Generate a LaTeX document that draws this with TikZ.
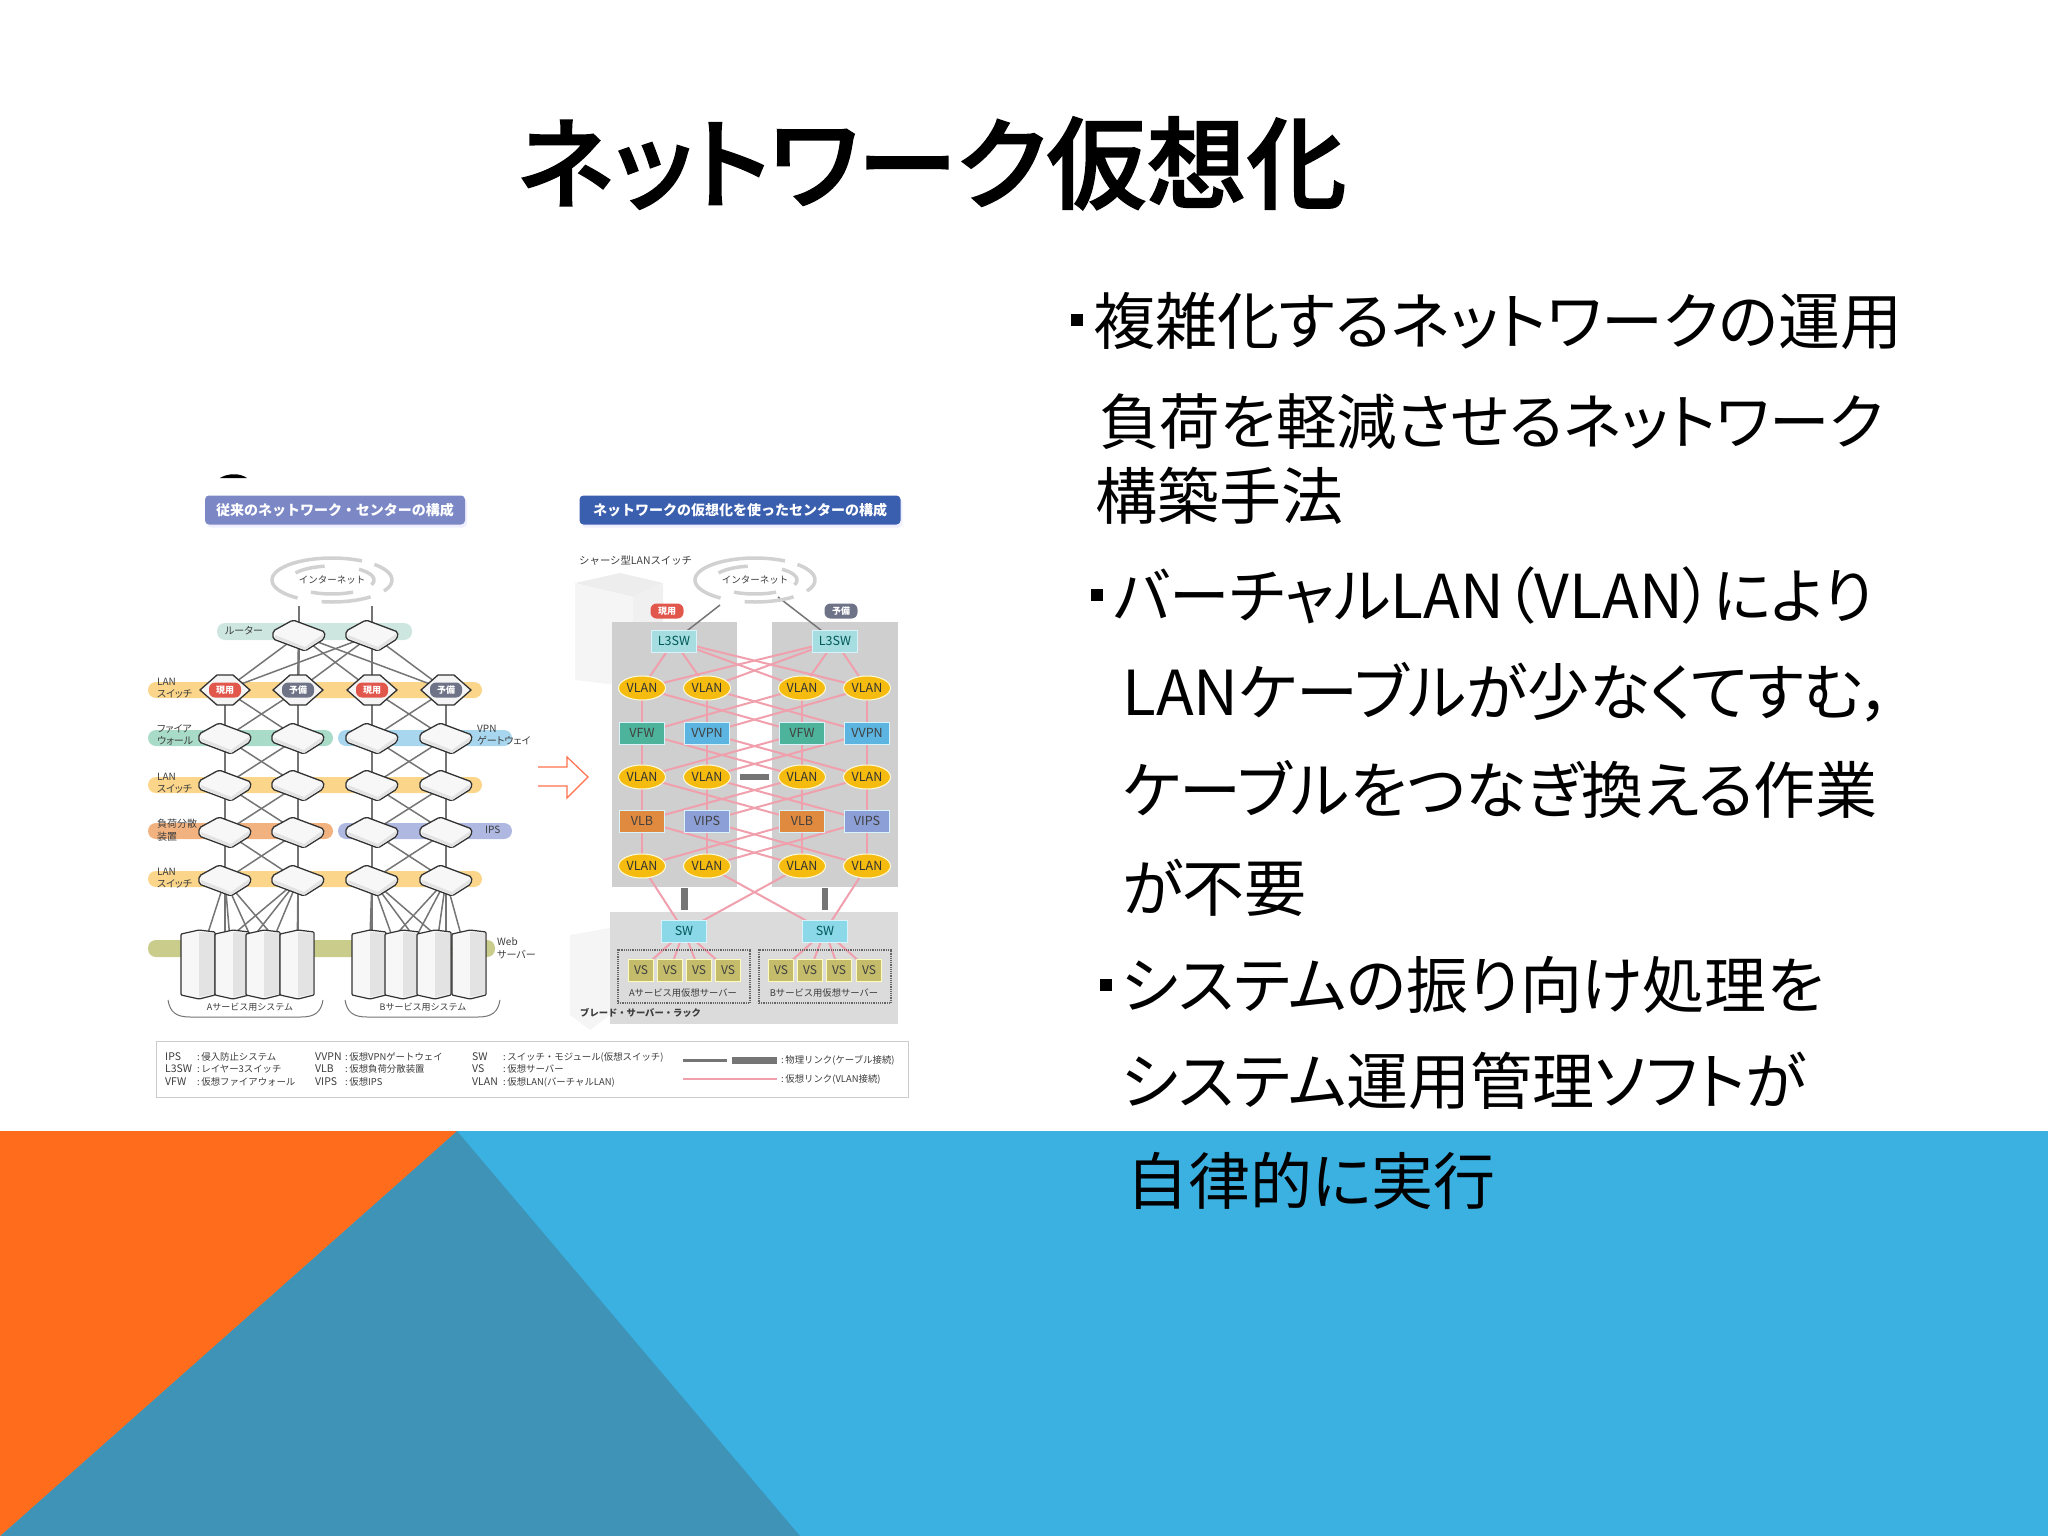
\documentclass[tikz,border=0pt]{standalone}
\usepackage{fontspec}
\setmainfont{Noto Sans CJK JP}
\newfontfamily\slidefont{Noto Sans CJK JP}[RawFeature=+palt]
\newfontfamily\titlefont{Noto Sans CJK JP Medium}[RawFeature=+palt,FakeBold=1.6]
\usetikzlibrary{backgrounds,shadows,shapes.geometric}

\definecolor{slideblue}{HTML}{3BB1E2}
\definecolor{slideorange}{HTML}{FF6C1B}
\definecolor{slideteal}{HTML}{3E93B7}
\definecolor{physgrey}{HTML}{757575}
\definecolor{virtpink}{HTML}{F0A0AD}
\definecolor{labelgrey}{HTML}{3C3C3C}
\definecolor{vsolive}{HTML}{C4BC6A}
\definecolor{l3cyan}{HTML}{A5DDE0}
\definecolor{swcyan}{HTML}{8AD8E8}
\definecolor{vfwgreen}{HTML}{4DB39A}
\definecolor{vvpnblue}{HTML}{5BB5E0}
\definecolor{vlborange}{HTML}{E08A40}
\definecolor{vipsblue}{HTML}{8C9FD6}
\definecolor{vlanyellow}{HTML}{F5BB0E}
\definecolor{bandrt}{HTML}{CDE6E0}
\definecolor{bandlan}{HTML}{FAD58A}
\definecolor{bandfw}{HTML}{A9DBC9}
\definecolor{bandvpn}{HTML}{A8D6EE}
\definecolor{bandlb}{HTML}{F2B27F}
\definecolor{bandips}{HTML}{AEB8E0}
\definecolor{bandweb}{HTML}{C9CC8A}
\definecolor{headold}{HTML}{7C88C6}
\definecolor{headnew}{HTML}{3B5FAF}
\definecolor{pillred}{HTML}{E2574C}
\definecolor{pillgrey}{HTML}{6E7388}

\tikzset{
    swbox/.style={minimum width=56,minimum height=36,inner sep=0,
        path picture={
            \draw[shift={(path picture bounding box.center)},draw=black!80,line width=1.3,fill=black!3,rounded corners=2]
                (-26,-4) -- (-6,-15) -- (26,-3) -- (25,4) -- (6,16) -- (-26,4) -- cycle;
            \fill[shift={(path picture bounding box.center)},black!11]
                (-24,0) -- (6,12) -- (24,-1) -- (24,3) -- (6,15) -- (-24,3) -- cycle;
        }},
    hexbox/.style={minimum width=56,minimum height=36,inner sep=0,
        path picture={
            \draw[shift={(path picture bounding box.center)},draw=black!80,line width=1.3,fill=black!4]
                (-25,0) -- (-8,-15) -- (8,-15) -- (25,0) -- (8,15) -- (-8,15) -- cycle;
        }},
    srvbox/.style={minimum width=37,minimum height=72,inner sep=0,
        path picture={
            \draw[shift={(path picture bounding box.center)},draw=black!80,line width=1.2,fill=black!3,rounded corners=1]
                (-17,-30) -- (1,-34) -- (17,-32) -- (17,31) -- (1,35) -- (-17,31) -- cycle;
            \fill[shift={(path picture bounding box.center)},black!11]
                (1,-32) -- (16,-31) -- (16,30) -- (1,33) -- cycle;
        }},
    cloudnet/.style={minimum width=128,minimum height=52,inner sep=0,
        path picture={
            \begin{scope}[shift={(path picture bounding box.center)},draw=black!18,line width=3.5]
                \foreach \p/\q in {60/165,-30/45,-100/-50,-195/-125}{
                    \draw plot[domain=\p:\q,samples=20] ({60*cos(\x)},{-22*sin(\x)});
                }
                \foreach \p/\q in {100/150,-20/50,-120/-60}{
                    \draw plot[domain=\p:\q,samples=20] ({42*cos(\x)},{-14*sin(\x)});
                }
            \end{scope}
        }},
    nettext/.style={inner sep=0,text=labelgrey,font=\fontsize{9.5}{9.5}\selectfont},
    bandbar/.style={rounded corners=8},
    sidelabel/.style={anchor=west,inner sep=0,align=left,text=labelgrey,font=\slidefont\fontsize{10}{12.5}\selectfont},
    headbox/.style={rounded corners=4,text=white,inner sep=0,font=\fontsize{14}{14}\bfseries\selectfont},
    statuspill/.style={rounded corners=6,text=white,minimum width=33,minimum height=15,inner sep=0,font=\fontsize{9}{9}\bfseries\selectfont},
    physlink/.style={physgrey,line width=1.5},
    physmain/.style={physgrey,line width=2.4},
    virtlink/.style={virtpink,line width=2},
    vlanoval/.style={ellipse,fill=vlanyellow,draw=yellow!15,line width=1,minimum width=47,minimum height=24,inner sep=0,text=black!80,font=\fontsize{12.5}{12.5}\selectfont},
    vnfbox/.style={draw=white!85!cyan,line width=1,minimum width=45,minimum height=22,inner sep=0,text=black!75,font=\fontsize{12.5}{12.5}\selectfont},
    vsbox/.style={fill=vsolive,draw=yellow!25,line width=1,minimum width=25,minimum height=22,inner sep=0,text=black!75,font=\fontsize{12}{12}\selectfont},
    legendtext/.style={anchor=west,inner sep=0,text=labelgrey,font=\fontsize{10.5}{10.5}\selectfont},
    bodyline/.style={anchor=base west,inner sep=0,font=\slidefont\fontsize{62}{62}\selectfont},
    narrowline/.style={font=\slidefont\fontsize{60.5}{62}\selectfont},
    bulletmark/.style={fill=black,minimum size=12,inner sep=0}
}

\begin{document}
\begin{tikzpicture}[x=1pt,y=-1pt]
    \useasboundingbox (0,0) rectangle (2048,1536);

    \begin{scope}[on background layer]
        % slide background
        \fill[slideblue] (0,1131) rectangle (2048,1536);
        \fill[slideteal] (457,1131) -- (800,1536) -- (0,1536) -- cycle;
        \fill[slideorange] (0,1131) -- (457,1131) -- (0,1536) -- cycle;
        % bands behind the switches
        \fill[bandbar,fill=bandrt] (217,623) rectangle (412,640);
        \fill[bandbar,fill=bandlan] (148,682) rectangle (482,698);
        \fill[bandbar,fill=bandfw] (148,730) rectangle (333,746);
        \fill[bandbar,fill=bandvpn] (338,730) rectangle (512,746);
        \fill[bandbar,fill=bandlan] (148,777) rectangle (482,793);
        \fill[bandbar,fill=bandlb] (148,823) rectangle (333,839);
        \fill[bandbar,fill=bandips] (338,823) rectangle (512,839);
        \fill[bandbar,fill=bandlan] (148,871) rectangle (482,887);
        \fill[bandbar,fill=bandweb] (148,940) rectangle (495,957);
        % chassis and rack
        \fill[black!7] (575,583) -- (620,573) -- (663,583) -- (633,597) -- cycle;
        \fill[black!4] (575,583) -- (633,597) -- (633,687) -- (575,680) -- cycle;
        \fill[black!6] (633,597) -- (663,583) -- (663,680) -- (633,687) -- cycle;
        \fill[black!4] (570,935) -- (610,928) -- (610,1015) -- (590,1030) -- (570,1015) -- cycle;
        % grey panels
        \fill[black!19] (612,622) rectangle (737,887);
        \fill[black!19] (772,622) rectangle (898,887);
        \fill[black!14] (610,912) rectangle (898,1024);
    \end{scope}

    \fill[black] (220,478) .. controls (228,473) and (240,473) .. (247,478) -- cycle;

    \node[anchor=base,inner sep=0,font=\titlefont\fontsize{100}{100}\selectfont] (title) at (932,201) {ネットワーク仮想化};

    % slide text
    \node[bulletmark] (bullet1) at (1077,320) {};
    \node[bodyline] (line1) at (1093,344) {複雑化するネットワークの運用};
    \node[bodyline,narrowline] (line2) at (1099,444) {負荷を軽減させるネットワーク};
    \node[bodyline] (line3) at (1095,519) {構築手法};
    \node[bulletmark] (bullet2) at (1097,595) {};
    \node[bodyline,narrowline] (line4) at (1113,618) {バーチャルLAN（VLAN）により};
    \node[bodyline] (line5) at (1122,715) {LANケーブルが少なくてすむ，};
    \node[bodyline] (line6) at (1122,813) {ケーブルをつなぎ換える作業};
    \node[bodyline] (line7) at (1122,911) {が不要};
    \node[bulletmark] (bullet3) at (1106,985) {};
    \node[bodyline] (line8) at (1121,1008) {システムの振り向け処理を};
    \node[bodyline] (line9) at (1121,1104) {システム運用管理ソフトが};
    \node[bodyline] (line10) at (1126,1204) {自律的に実行};

    % left diagram
    \node[headbox,fill=headold,minimum width=260,minimum height=29,drop shadow={shadow xshift=2pt,shadow yshift=-3pt,fill=blue!12}] (headold) at (335,510) {従来のネットワーク・センターの構成};
    \node[cloudnet] (netold) at (332,580) {};
    \node[nettext] (netoldtext) at (netold) {インターネット};
    \node[swbox] (rt1) at (299,635) {};
    \node[swbox] (rt2) at (372,635) {};
    \foreach \c/\x in {1/225,2/298,3/372,4/446}{
        \node[hexbox] (sw1\c) at (\x,690) {};
        \foreach \r/\y in {2/738,3/785,4/832,5/880}{
            \node[swbox] (sw\r\c) at (\x,\y) {};
        }
    }
    \foreach \c in {1,3}{
        \node[statuspill,fill=pillred,minimum width=32] (pill\c) at (sw1\c) {現用};
    }
    \foreach \c in {2,4}{
        \node[statuspill,fill=pillgrey,minimum width=32] (pill\c) at (sw1\c) {予備};
    }
    \foreach \s/\x in {1/198,2/232,3/263,4/297,5/369,6/402,7/434,8/469}{
        \node[srvbox] (srv\s) at (\x,964) {};
    }
    \node[sidelabel] (lblrt) at (225,631) {ルーター};
    \node[sidelabel] (lbllan1) at (157,688) {LAN\\スイッチ};
    \node[sidelabel] (lblfw) at (157,735) {ファイア\\ウォール};
    \node[sidelabel] (lbllan2) at (157,783) {LAN\\スイッチ};
    \node[sidelabel] (lbllb) at (157,830) {負荷分散\\装置};
    \node[sidelabel] (lbllan3) at (157,878) {LAN\\スイッチ};
    \node[sidelabel] (lblvpn) at (477,735) {VPN\\ゲートウェイ};
    \node[sidelabel] (lblips) at (485,830) {IPS};
    \node[sidelabel] (lblweb) at (497,948) {Web\\サーバー};
    \node[inner sep=0,text=labelgrey,font=\fontsize{9}{9}\selectfont] (sysa) at (250,1007) {Aサービス用システム};
    \node[inner sep=0,text=labelgrey,font=\fontsize{9}{9}\selectfont] (sysb) at (423,1007) {Bサービス用システム};
    \draw[black!55,line width=1] (168,1000) .. controls (170,1012) and (176,1017) .. (190,1017) -- (301,1017) .. controls (315,1017) and (321,1012) .. (323,1000);
    \draw[black!55,line width=1] (345,1000) .. controls (347,1012) and (353,1017) .. (367,1017) -- (478,1017) .. controls (492,1017) and (498,1012) .. (500,1000);

    % hollow arrow between the two
    \draw[red!60!orange!70,line width=1.2] (538,767) -- (567,767) -- (567,757) -- (588,777) -- (567,798) -- (567,786) -- (538,786);

    % right diagram
    \node[headbox,fill=headnew,minimum width=321,minimum height=29,drop shadow={shadow xshift=2pt,shadow yshift=-3pt,fill=blue!12}] (headnew) at (740,510) {ネットワークの仮想化を使ったセンターの構成};
    \node[anchor=west,inner sep=0,text=labelgrey,font=\fontsize{10.4}{10.4}\selectfont] (chassis) at (579,561) {シャーシ型LANスイッチ};
    \node[cloudnet] (netnew) at (755,580) {};
    \node[nettext] (netnewtext) at (netnew) {インターネット};
    \coordinate (netnewl) at (720,605);
    \coordinate (netnewr) at (778,597);
    \node[statuspill,fill=pillred] (pillnew1) at (667,611) {現用};
    \node[statuspill,fill=pillgrey] (pillnew2) at (841,611) {予備};
    \node[vnfbox,fill=l3cyan,text=teal!70!black] (l31) at (674,641) {L3SW};
    \node[vnfbox,fill=l3cyan,text=teal!70!black] (l32) at (835,641) {L3SW};
    \foreach \c/\x in {1/642,2/707,3/802,4/867}{
        \foreach \r/\y in {1/688,3/777,5/866}{
            \node[vlanoval] (v\r\c) at (\x,\y) {VLAN};
        }
    }
    \foreach \c/\x/\t/\f in {1/642/VFW/vfwgreen,2/707/VVPN/vvpnblue,3/802/VFW/vfwgreen,4/867/VVPN/vvpnblue}{
        \node[vnfbox,fill=\f] (v2\c) at (\x,733) {\t};
    }
    \foreach \c/\x/\t/\f in {1/642/VLB/vlborange,2/707/VIPS/vipsblue,3/802/VLB/vlborange,4/867/VIPS/vipsblue}{
        \node[vnfbox,fill=\f] (v4\c) at (\x,821) {\t};
    }
    \node[vnfbox,fill=swcyan,text=teal!70!black] (vsw1) at (684,931) {SW};
    \node[vnfbox,fill=swcyan,text=teal!70!black] (vsw2) at (825,931) {SW};
    \foreach \c/\x in {1/641,2/670,3/699,4/728,5/781,6/810,7/839,8/869}{
        \node[vsbox] (vs\c) at (\x,970) {VS};
    }
    \node[draw=black!60,densely dotted,line width=1.2,minimum width=132,minimum height=53,inner sep=0] (vsgrpa) at (684,976.5) {};
    \node[draw=black!60,densely dotted,line width=1.2,minimum width=132,minimum height=53,inner sep=0] (vsgrpb) at (825,976.5) {};
    \node[inner sep=0,text=labelgrey,font=\fontsize{9.3}{9.3}\selectfont] (vsa) at (683,993) {Aサービス用仮想サーバー};
    \node[inner sep=0,text=labelgrey,font=\fontsize{9.3}{9.3}\selectfont] (vsb) at (824,993) {Bサービス用仮想サーバー};
    \node[anchor=west,inner sep=0,text=labelgrey,font=\fontsize{9.3}{9.3}\bfseries\selectfont] (rack) at (580,1013) {ブレード・サーバー・ラック};
    \node[fill=physgrey,minimum width=7,minimum height=22,inner sep=0] (cable1) at (684,899) {};
    \node[fill=physgrey,minimum width=6,minimum height=22,inner sep=0] (cable2) at (825,899) {};
    \node[fill=physgrey,minimum width=29,minimum height=6,inner sep=0] (cable3) at (754,777) {};

    % legend
    \node[draw=black!20,line width=1,minimum width=752,minimum height=56,inner sep=0] (legend) at (532,1069) {};
    \foreach \n/\x/\y/\t in {a/165/1057/IPS,b/165/1069/L3SW,c/165/1082/VFW,d/315/1057/VVPN,e/315/1069/VLB,f/315/1082/VIPS,g/472/1057/SW,h/472/1069/VS,i/472/1082/VLAN}{
        \node[legendtext] (lg\n) at (\x,\y) {\t};
    }
    \foreach \n/\x/\y/\t in {a/197/1057/:\,侵入防止システム,b/197/1069/:\,レイヤー3スイッチ,c/197/1082/:\,仮想ファイアウォール,d/345/1057/:\,仮想VPNゲートウェイ,e/345/1069/:\,仮想負荷分散装置,f/345/1082/:\,仮想IPS,g/503/1057/:\,スイッチ・モジュール(仮想スイッチ),h/503/1069/:\,仮想サーバー,i/503/1082/:\,仮想LAN(バーチャルLAN),j/781/1060/:\,物理リンク(ケーブル接続),k/781/1079/:\,仮想リンク(VLAN接続)}{
        \node[legendtext,font=\fontsize{9.4}{9.4}\selectfont] (ld\n) at (\x,\y) {\t};
    }
    \coordinate (keya) at (683,1060);
    \coordinate (keyb) at (727,1060);
    \coordinate (keyc) at (732,1060);
    \coordinate (keyd) at (777,1060);
    \coordinate (keye) at (683,1079);
    \coordinate (keyf) at (777,1079);
    \draw[physgrey,line width=3] (keya) -- (keyb);
    \draw[physgrey,line width=7] (keyc) -- (keyd);
    \draw[virtlink,line width=2.5] (keye) -- (keyf);

    \begin{scope}[on background layer]
        % physical links
        \draw[physmain] (netold.south -| rt1.center) -- (rt1.center);
        \draw[physmain] (netold.south -| rt2.center) -- (rt2.center);
        \draw[physlink] (netnewl) -- (l31.center);
        \draw[physlink] (netnewr) -- (l32.center);
        \foreach \a in {1,2}{
            \foreach \b in {1,...,4}{
                \draw[physlink] (rt\a.center) -- (sw1\b.center);
            }
        }
        \draw[physmain] (rt1.center) -- (sw12.center);
        \draw[physmain] (rt2.center) -- (sw13.center);
        \foreach \r/\s in {1/2,2/3,3/4,4/5}{
            \foreach \a/\b in {1/2,2/1,3/4,4/3}{
                \draw[physlink] (sw\r\a.center) -- (sw\s\b.center);
            }
            \foreach \a in {1,...,4}{
                \draw[physmain] (sw\r\a.center) -- (sw\s\a.center);
            }
        }
        \foreach \a/\t in {1/1,1/2,1/3,1/4,2/1,2/2,2/3,2/4,3/5,3/6,3/7,3/8,4/5,4/6,4/7,4/8}{
            \draw[physlink] (sw5\a.center) -- (srv\t.center);
        }
        \foreach \a/\t in {1/2,2/4,3/6,4/8}{
            \draw[physmain] (sw5\a.center) -- (sw5\a.center |- srv\t.center);
        }
        % virtual links
        \foreach \a in {1,2}{
            \foreach \b in {1,...,4}{
                \draw[virtlink] (l3\a.center) -- (v1\b.center);
            }
        }
        \foreach \r/\s in {1/2,2/3,3/4,4/5}{
            \foreach \a/\b in {1/1,2/2,3/3,4/4,1/3,2/4,3/1,4/2}{
                \draw[virtlink] (v\r\a.center) -- (v\s\b.center);
            }
        }
        \foreach \a/\b in {1/1,2/2,3/1,4/2}{
            \draw[virtlink] (v5\a.center) -- (vsw\b.center);
        }
        \foreach \a/\b in {1/1,1/2,1/3,1/4,2/5,2/6,2/7,2/8}{
            \draw[virtlink] (vsw\a.center) -- (vs\b.center);
        }
    \end{scope}
\end{tikzpicture}
\end{document}
